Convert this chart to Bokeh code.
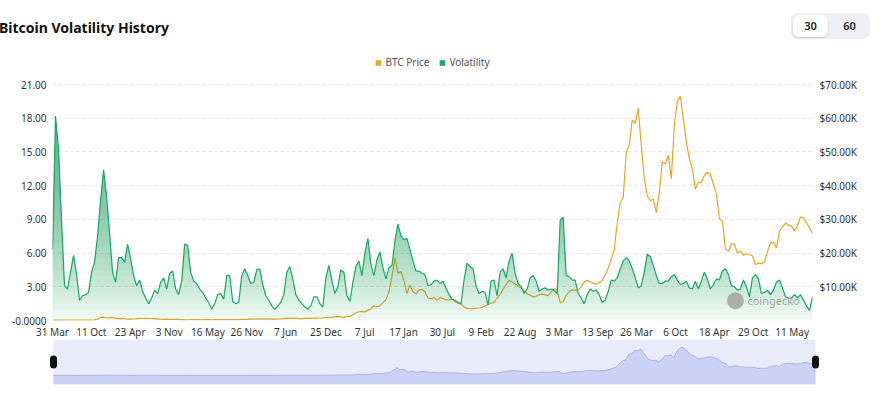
import numpy as np
import pandas as pd
from bokeh.plotting import figure
from bokeh.models import (Range1d, LinearAxis, FixedTicker, Legend, LegendItem,
                          Div, Label)
from bokeh.layouts import column, row
from bokeh.embed import file_html
from bokeh.resources import INLINE

# ---------------- data ----------------
start_date = "2013-03-31"
step_days = 15  # one sample every 15 days

volatility = [
    6.3, 18.2, 15.3, 9.0, 3.1, 2.8, 4.3, 5.8, 4.1, 1.8,
    2.2, 2.3, 2.5, 4.3, 5.2, 7.5, 10.7, 13.4, 11.1, 7.8,
    4.3, 3.4, 5.6, 5.6, 5.2, 6.8, 5.5, 4.0, 3.1, 3.6,
    2.6, 2.0, 1.5, 2.0, 2.7, 2.4, 3.4, 3.8, 2.8, 4.2,
    4.4, 2.8, 2.3, 3.5, 6.8, 6.7, 4.3, 3.5, 3.3, 2.8,
    2.5, 2.0, 1.6, 1.0, 1.5, 2.3, 2.4, 1.9, 4.0, 4.0,
    1.7, 1.5, 1.6, 4.0, 4.6, 4.0, 3.3, 3.4, 4.5, 4.6,
    3.2, 2.2, 1.8, 1.3, 1.0, 1.3, 1.6, 2.3, 4.3, 4.8,
    3.7, 2.3, 1.8, 1.5, 1.2, 1.0,
    1.3, 2.1, 2.1, 1.5, 1.2, 3.8, 4.9, 3.6, 2.4, 3.0,
    4.5, 4.3, 2.2, 1.7, 3.4, 4.8, 5.3, 4.0, 6.0, 7.3,
    5.0, 4.0, 5.4, 6.1, 4.7, 3.7, 4.7, 4.9, 7.1, 8.6,
    7.5, 7.2, 7.3, 6.3, 5.3, 4.4, 4.4, 4.2, 4.1, 3.1,
    3.2, 3.5, 3.6, 3.3, 3.5, 2.9, 2.3, 1.9, 1.8, 1.6,
    1.5, 3.6, 5.1, 4.8, 4.6, 3.1, 2.4, 2.6, 2.5, 1.4,
    3.5, 3.6, 2.2, 4.3, 4.6, 3.8, 5.3, 6.0, 4.2, 3.3,
    3.0, 2.4, 2.8, 3.8, 4.0, 3.5, 2.6, 2.8, 2.9, 2.7,
    2.8, 2.7, 2.4, 8.9,
    9.2, 4.0, 3.9, 3.6, 3.6, 2.4, 2.0, 1.5, 2.3, 2.8,
    2.6, 2.7, 2.3, 1.6, 1.8, 2.6, 3.6, 3.5, 3.8, 4.6,
    5.3, 5.6, 5.3, 4.6, 3.8, 2.9, 3.1, 4.3, 5.9, 5.7,
    4.9, 4.0, 3.3, 3.3, 3.5, 3.5, 3.9, 4.1, 3.6, 3.2,
    3.3, 3.5, 2.9, 2.8, 3.5, 2.8, 3.5, 4.3, 3.7, 2.8,
    3.2, 3.7, 3.6, 4.4, 4.6, 4.1, 3.1, 3.0, 2.7, 2.8,
    3.6, 3.0, 2.1, 3.8, 4.1, 3.7, 2.4, 2.5, 2.7, 2.3,
    2.7, 3.4, 3.6, 2.9, 2.1, 2.0, 2.0, 2.3, 2.0, 2.3,
    1.8, 1.3, 0.9, 2.1,
]

btc_price_k = [
    0.093, 0.090, 0.140, 0.115, 0.128, 0.100, 0.090, 0.095, 0.098, 0.105,
    0.125, 0.130, 0.135, 0.140, 0.190, 0.340, 0.950, 1.000, 0.750, 0.900,
    0.840, 0.690, 0.540, 0.640, 0.580, 0.380, 0.430, 0.450, 0.580, 0.650,
    0.590, 0.630, 0.600, 0.590, 0.510, 0.480, 0.400, 0.330, 0.380, 0.340,
    0.350, 0.375, 0.320, 0.275, 0.210, 0.225, 0.240, 0.275, 0.260, 0.255,
    0.225, 0.235, 0.235, 0.225, 0.245, 0.260, 0.275, 0.280, 0.255, 0.230,
    0.230, 0.237, 0.270, 0.325, 0.330, 0.360, 0.455, 0.430, 0.390, 0.380,
    0.400, 0.435, 0.415, 0.415, 0.425, 0.450, 0.455, 0.530, 0.700, 0.650,
    0.660, 0.655, 0.585, 0.575, 0.605, 0.605,
    0.64, 0.68, 0.715, 0.74, 0.77, 0.89, 0.90, 0.92, 1.05, 1.17,
    1.10, 0.95, 1.19, 1.25, 1.70, 2.30, 2.60, 2.70, 2.55, 3.00,
    3.40, 4.30, 4.10, 4.50, 5.20, 6.20, 8.50, 13.0, 18.6, 14.0,
    14.5, 11.8, 8.0, 10.5, 8.5, 7.9, 9.0, 9.2, 8.5, 6.7,
    6.4, 6.9, 6.0, 6.7, 6.5, 6.1, 6.2, 6.4, 5.6, 5.1,
    4.8, 4.0, 3.6, 3.5, 3.5, 3.6, 3.7, 3.9, 4.3, 4.7,
    5.1, 5.4, 6.6, 7.7, 9.2, 10.6, 11.9, 11.4, 10.9, 10.2,
    9.6, 8.9, 7.9, 7.5, 7.0, 7.2, 7.7, 7.8, 7.6, 7.4,
    8.5, 9.4, 8.9, 5.3,
    5.6, 7.4, 8.5, 9.1, 9.0, 9.0, 10.0, 11.4, 11.9, 11.4,
    11.0, 10.8, 11.3, 11.9, 13.5, 15.5, 18.2, 21.0, 29.0, 35.0,
    36.5, 50.0, 52.0, 59.5, 58.5, 63.0, 52.0, 42.0, 37.0, 35.5,
    36.0, 32.0, 38.0, 47.0, 46.5, 49.0, 42.0, 58.0, 65.0, 66.5,
    60.0, 53.0, 48.0, 45.0, 39.0, 41.0, 41.0, 43.0, 44.0, 43.3,
    40.5, 37.4, 30.3, 29.4, 21.2, 20.5, 22.8, 22.7, 20.0, 20.6,
    19.4, 19.8, 19.5, 19.2, 16.5, 17.1, 16.8, 17.4, 20.4, 23.0,
    23.3, 21.5, 26.5, 27.8, 28.9, 28.3, 28.0, 26.6, 28.1, 30.7,
    30.5, 29.0, 27.5, 25.7,
]

tick_dates = ["2013-03-31", "2013-10-11", "2014-04-23", "2014-11-03", "2015-05-16",
              "2015-11-26", "2016-06-07", "2016-12-25", "2017-07-07", "2018-01-17",
              "2018-07-30", "2019-02-09", "2019-08-22", "2020-03-03", "2020-09-13",
              "2021-03-26", "2021-10-06", "2022-04-18", "2022-10-29", "2023-05-11"]
tick_labels = ["31 Mar", "11 Oct", "23 Apr", "3 Nov", "16 May", "26 Nov", "7 Jun",
               "25 Dec", "7 Jul", "17 Jan", "30 Jul", "9 Feb", "22 Aug", "3 Mar",
               "13 Sep", "26 Mar", "6 Oct", "18 Apr", "29 Oct", "11 May"]

vol_ticks = [0, 3, 6, 9, 12, 15, 18, 21]
vol_tick_labels = ["-0.0000", "3.00", "6.00", "9.00", "12.00", "15.00", "18.00", "21.00"]
price_ticks = [0, 10, 20, 30, 40, 50, 60, 70]
price_tick_labels = ["", "$10.00K", "$20.00K", "$30.00K", "$40.00K", "$50.00K",
                     "$60.00K", "$70.00K"]

# ---------------- styling ----------------
ORANGE = "#eca523"
GREEN = "#17a862"
FONT = "Noto Sans"

start = pd.Timestamp(start_date)
n = len(volatility)
dates = pd.date_range(start, periods=n, freq=f"{step_days}D")
x = np.array([(d - start).days for d in dates], dtype=float)
vol = np.array(volatility)
price = np.array(btc_price_k)
tick_pos = [(pd.Timestamp(d) - start).days for d in tick_dates]

W = 885
HEAD_H = 50
MAIN_H = 292
BOTTOM = 22
NAV_H = 63
NAV_OVERLAP = 3
frame_h = MAIN_H - BOTTOM
px_per_unit = 236 / 21.0           # 21.00 grid line sits 236px above zero
vol_top = frame_h / px_per_unit
price_top = vol_top * 70 / 21.0

p = figure(width=W, height=MAIN_H, x_range=Range1d(x[0], x[-1]),
           y_range=Range1d(0, vol_top), output_backend="svg", toolbar_location=None,
           min_border_left=52, min_border_right=73, min_border_top=0,
           min_border_bottom=BOTTOM, outline_line_color=None,
           background_fill_color="white", border_fill_color="white")
p.extra_y_ranges = {"price": Range1d(0, price_top)}

p.xgrid.visible = False
p.ygrid.ticker = FixedTicker(ticks=vol_ticks)
p.ygrid.grid_line_color = "#e4e4e4"
p.ygrid.grid_line_dash = "3 3"

def style_axis(ax, standoff):
    ax.axis_line_color = None
    ax.major_tick_line_color = None
    ax.minor_tick_line_color = None
    ax.major_tick_out = 0
    ax.major_tick_in = 0
    ax.minor_tick_out = 0
    ax.minor_tick_in = 0
    ax.major_label_text_font = FONT
    ax.major_label_text_font_size = "10px"
    ax.major_label_text_color = "#333333"
    ax.major_label_standoff = standoff

yl = p.yaxis[0]
yl.ticker = FixedTicker(ticks=vol_ticks)
yl.major_label_overrides = {t: s for t, s in zip(vol_ticks, vol_tick_labels)}
style_axis(yl, 6)

yr = LinearAxis(y_range_name="price", ticker=FixedTicker(ticks=price_ticks))
yr.major_label_overrides = {t: s for t, s in zip(price_ticks, price_tick_labels)}
style_axis(yr, 7)
p.add_layout(yr, "right")

xa = p.xaxis[0]
xa.ticker = FixedTicker(ticks=tick_pos, minor_ticks=[])
xa.major_label_overrides = {t: s for t, s in zip(tick_pos, tick_labels)}
style_axis(xa, 4)

# BTC price line
p.line(x, price, y_range_name="price", line_color=ORANGE, line_width=1.2)

# volatility area with vertical gradient (stacked translucent layers)
step = 0.5
for k in range(int(21 / step) + 1):
    lvl = k * step
    p.varea(x=x, y1=np.minimum(vol, lvl), y2=vol, fill_color=GREEN, fill_alpha=0.032)
p.varea(x=x, y1=0, y2=vol, fill_color=GREEN, fill_alpha=0.04)
p.line(x, vol, line_color=GREEN, line_width=1.2)

# legend (square swatches); renderers hold a single NaN row so nothing is drawn
nan = [float("nan")]
r_leg_p = p.quad(left=nan, right=nan, top=nan, bottom=nan, fill_color=ORANGE, line_color=None)
r_leg_v = p.quad(left=nan, right=nan, top=nan, bottom=nan, fill_color=GREEN, line_color=None)
legend = Legend(items=[LegendItem(label="BTC Price", renderers=[r_leg_p]),
                       LegendItem(label="Volatility", renderers=[r_leg_v])],
                orientation="horizontal", location="top_center",
                glyph_width=7, glyph_height=7, label_standoff=4, spacing=9,
                padding=0, margin=5, border_line_color=None,
                background_fill_alpha=0, label_text_font=FONT,
                label_text_font_size="10px", label_text_color="#555555")
p.add_layout(legend)

# watermark
p.scatter([3410], [1.75], size=17, marker="circle", fill_color="#9a9a9a",
          line_color=None, fill_alpha=0.75)
p.add_layout(Label(x=3470, y=1.75, text="coingecko", text_font=FONT,
                   text_font_size="11px", text_color="#9a9a9a", text_alpha=0.85,
                   text_baseline="middle"))

# ---------------- navigator ----------------
nav_lo, nav_hi = -21.3, 85.2
dppn = x[-1] / 762.0
nav = figure(width=W, height=NAV_H,
             x_range=Range1d(x[0] - 8 * dppn, x[-1] + 10 * dppn),
             y_range=Range1d(nav_lo, nav_hi), output_backend="svg",
             toolbar_location=None, x_axis_location=None, y_axis_location=None,
             min_border_left=45, min_border_right=60, min_border_top=0,
             min_border_bottom=18, outline_line_color=None,
             background_fill_color="white", border_fill_color="white",
             border_fill_alpha=0)
nav.grid.visible = False
nav.quad(left=x[0], right=x[-1], bottom=nav_lo, top=nav_hi,
         fill_color="#e9ebfb", line_color=None)
nav.varea(x=x, y1=nav_lo, y2=price, fill_color="#cbd2f5")
nav.line(x, price, line_color="#a9b2ea", line_width=1)
mid = (nav_lo + nav_hi) / 2
for hx in (x[0], x[-1]):
    nav.line([hx, hx], [mid - 7, mid + 7], line_width=7, line_cap="round",
             line_color="#111111")

# ---------------- header ----------------
header_html = f"""
<div style="position:relative;width:{W}px;height:{HEAD_H}px;font-family:'{FONT}',sans-serif;">
  <div style="position:absolute;left:-1px;top:18px;font-size:14px;font-weight:700;
              color:#111;line-height:20px;white-space:nowrap;">Bitcoin Volatility History</div>
  <div style="position:absolute;left:791px;top:13px;width:79px;height:26px;
              background:#eef0f3;border-radius:7px;"></div>
  <div style="position:absolute;left:793px;top:15px;width:35px;height:22px;
              background:#ffffff;border-radius:6px;box-shadow:0 1px 2px rgba(0,0,0,0.18);"></div>
  <div style="position:absolute;left:793px;top:15px;width:35px;height:22px;line-height:22px;
              text-align:center;font-size:11px;font-weight:600;color:#222;">30</div>
  <div style="position:absolute;left:832px;top:15px;width:35px;height:22px;line-height:22px;
              text-align:center;font-size:11px;font-weight:600;color:#222;">60</div>
</div>
"""
header = Div(text=header_html, width=W, height=HEAD_H, margin=0)

layout = column(header, p, row(nav, margin=(-NAV_OVERLAP, 0, 0, 0)), spacing=0)

open("out.html", "w").write(file_html(layout, INLINE))
